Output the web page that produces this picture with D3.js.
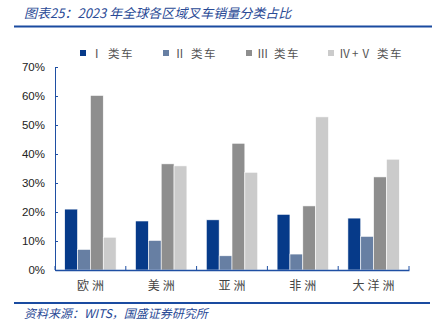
<!DOCTYPE html>
<html><head><meta charset="utf-8">
<script src="https://cdn.jsdelivr.net/npm/d3@7"></script>
<style>body{margin:0;background:#fff}svg{display:block}</style>
</head><body>
<script>
const categories = ["欧洲","美洲","亚洲","非洲","大洋洲"];
const seriesNames = ["Ⅰ 类车","Ⅱ 类车","Ⅲ 类车","Ⅳ+Ⅴ 类车"];
const class1 = [21.0,16.9,17.3,19.2,17.9];
const class2 = [7.1,10.2,4.9,5.5,11.6];
const class3 = [60.2,36.6,43.7,22.1,32.1];
const class45 = [11.3,35.9,33.7,52.8,38.2];
const yTicks = [0,10,20,30,40,50,60,70];
const colors = ["#063a89","#677fa3","#8e8e8e","#cbcbcb"];
const series = [class1,class2,class3,class45];

const W=436,H=332;
const svg=d3.select("body").append("svg").attr("width",W).attr("height",H);
const font="'Noto Sans CJK SC', 'Liberation Sans', sans-serif";
const blue="#1f4fa3";

svg.append("text").attr("x",24).attr("y",18).attr("font-family",font).attr("font-style","italic")
  .attr("font-size",13).attr("fill","#2a4a96").text("图表25：2023 年全球各区域叉车销量分类占比");
svg.append("line").attr("x1",14).attr("x2",432).attr("y1",26.5).attr("y2",26.5).attr("stroke","#1a4ba0").attr("stroke-width",2);

svg.append("line").attr("x1",14).attr("x2",430).attr("y1",303).attr("y2",303).attr("stroke","#1a4ba0").attr("stroke-width",2);
svg.append("text").attr("x",24).attr("y",318).attr("font-family",font).attr("font-style","italic")
  .attr("font-size",12).attr("fill","#2a4a96").text("资料来源：WITS，国盛证券研究所");

const x0=d3.scaleBand().domain(categories).range([55,409]).paddingInner(0).paddingOuter(0);
const y=d3.scaleLinear().domain([0,70]).range([270,67]);
const inner=0.726;
const x1=d3.scaleBand().domain(d3.range(4)).range([0,x0.bandwidth()*inner]);
const off=x0.bandwidth()*(1-inner)/2;

const g=svg.append("g");
categories.forEach((c,i)=>{
  series.forEach((s,k)=>{
    g.append("rect").attr("x",x0(c)+off+x1(k)).attr("y",y(s[i]))
     .attr("width",x1.bandwidth()).attr("height",y(0)-y(s[i]))
     .attr("fill",colors[k]).attr("stroke","#fff").attr("stroke-width",0.6);
  });
});

// y axis
const ya=svg.append("g").attr("transform","translate(55,0)")
  .call(d3.axisLeft(y).tickValues(yTicks).tickFormat(d=>d+"%").tickSizeInner(-3).tickSizeOuter(0).tickPadding(10));
ya.select(".domain").attr("stroke",blue);
ya.selectAll(".tick line").attr("stroke",blue);
ya.selectAll("text").attr("font-family","'Liberation Sans', Arial, sans-serif").attr("font-size",11.5).attr("fill","#222");

// x axis
const xa=svg.append("g").attr("transform","translate(0,270)")
  .call(d3.axisBottom(x0).tickSize(0).tickPadding(11));
xa.select(".domain").attr("stroke",blue).attr("stroke-width",1.5);
xa.selectAll("text").attr("font-family",font).attr("font-size",12).attr("fill","#444").attr("letter-spacing","3px").attr("dx","1.5px");
const bounds=[55].concat(categories.map(c=>x0(c)+x0.bandwidth()));
svg.selectAll(".xt").data(bounds).enter().append("line")
  .attr("x1",d=>d).attr("x2",d=>d).attr("y1",270).attr("y2",266).attr("stroke",blue);

// legend
const legX=[80,163,246,328];
seriesNames.forEach((n,k)=>{
  svg.append("rect").attr("x",legX[k]).attr("y",50).attr("width",6).attr("height",6).attr("fill",colors[k]);
  svg.append("text").attr("x",legX[k]+11).attr("y",57.5).attr("font-family",font).attr("font-size",11.5).attr("fill","#555").attr("letter-spacing","1.5px").text(n);
});
</script>
</body></html>
